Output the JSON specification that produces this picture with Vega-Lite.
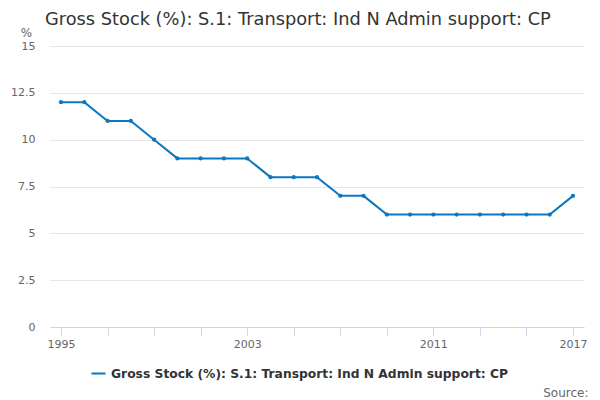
{
  "$schema": "https://vega.github.io/schema/vega-lite/v6.json",
  "width": 534,
  "height": 281,
  "autosize": {"type": "none"},
  "padding": {"left": 50, "top": 46, "right": 16, "bottom": 73},
  "background": "#ffffff",
  "title": {
    "text": "Gross Stock (%): S.1: Transport: Ind N Admin support: CP",
    "anchor": "start",
    "frame": "group",
    "font": "DejaVu Sans",
    "fontSize": 17.8,
    "fontWeight": "normal",
    "color": "#333333",
    "dx": -5,
    "offset": -3
  },
  "data": {
    "values": [
      {"year": 1995, "value": 12, "series": "Gross Stock (%): S.1: Transport: Ind N Admin support: CP"},
      {"year": 1996, "value": 12, "series": "Gross Stock (%): S.1: Transport: Ind N Admin support: CP"},
      {"year": 1997, "value": 11, "series": "Gross Stock (%): S.1: Transport: Ind N Admin support: CP"},
      {"year": 1998, "value": 11, "series": "Gross Stock (%): S.1: Transport: Ind N Admin support: CP"},
      {"year": 1999, "value": 10, "series": "Gross Stock (%): S.1: Transport: Ind N Admin support: CP"},
      {"year": 2000, "value": 9, "series": "Gross Stock (%): S.1: Transport: Ind N Admin support: CP"},
      {"year": 2001, "value": 9, "series": "Gross Stock (%): S.1: Transport: Ind N Admin support: CP"},
      {"year": 2002, "value": 9, "series": "Gross Stock (%): S.1: Transport: Ind N Admin support: CP"},
      {"year": 2003, "value": 9, "series": "Gross Stock (%): S.1: Transport: Ind N Admin support: CP"},
      {"year": 2004, "value": 8, "series": "Gross Stock (%): S.1: Transport: Ind N Admin support: CP"},
      {"year": 2005, "value": 8, "series": "Gross Stock (%): S.1: Transport: Ind N Admin support: CP"},
      {"year": 2006, "value": 8, "series": "Gross Stock (%): S.1: Transport: Ind N Admin support: CP"},
      {"year": 2007, "value": 7, "series": "Gross Stock (%): S.1: Transport: Ind N Admin support: CP"},
      {"year": 2008, "value": 7, "series": "Gross Stock (%): S.1: Transport: Ind N Admin support: CP"},
      {"year": 2009, "value": 6, "series": "Gross Stock (%): S.1: Transport: Ind N Admin support: CP"},
      {"year": 2010, "value": 6, "series": "Gross Stock (%): S.1: Transport: Ind N Admin support: CP"},
      {"year": 2011, "value": 6, "series": "Gross Stock (%): S.1: Transport: Ind N Admin support: CP"},
      {"year": 2012, "value": 6, "series": "Gross Stock (%): S.1: Transport: Ind N Admin support: CP"},
      {"year": 2013, "value": 6, "series": "Gross Stock (%): S.1: Transport: Ind N Admin support: CP"},
      {"year": 2014, "value": 6, "series": "Gross Stock (%): S.1: Transport: Ind N Admin support: CP"},
      {"year": 2015, "value": 6, "series": "Gross Stock (%): S.1: Transport: Ind N Admin support: CP"},
      {"year": 2016, "value": 6, "series": "Gross Stock (%): S.1: Transport: Ind N Admin support: CP"},
      {"year": 2017, "value": 7, "series": "Gross Stock (%): S.1: Transport: Ind N Admin support: CP"}
    ]
  },
  "mark": {"type": "line", "strokeWidth": 2, "point": {"size": 18, "filled": true}},
  "encoding": {
    "x": {
      "field": "year",
      "type": "quantitative",
      "scale": {"domain": [1995, 2017], "nice": false, "zero": false, "padding": 11},
      "axis": {
        "values": [1995, 1997, 1999, 2001, 2003, 2005, 2007, 2009, 2011, 2013, 2015, 2017],
        "labelExpr": "(datum.value == 1995 || datum.value == 2003 || datum.value == 2011 || datum.value == 2017) ? datum.label : ''",
        "format": "d",
        "grid": false,
        "domainColor": "#ccd6eb",
        "tickColor": "#ccd6eb",
        "tickSize": 8,
        "labelFont": "DejaVu Sans",
        "labelFontSize": 11,
        "labelColor": "#666666",
        "labelPadding": 3,
        "labelFlush": false,
        "title": "Source:",
        "titleFont": "DejaVu Sans",
        "titleFontSize": 12,
        "titleFontWeight": "normal",
        "titleColor": "#666666",
        "titleAnchor": null,
        "titleAlign": "right",
        "titleBaseline": "middle",
        "titleX": 538,
        "titleY": 65
      }
    },
    "y": {
      "field": "value",
      "type": "quantitative",
      "scale": {"domain": [0, 15], "nice": false},
      "axis": {
        "values": [0, 2.5, 5, 7.5, 10, 12.5, 15],
        "format": ".1~f",
        "domain": false,
        "ticks": false,
        "gridColor": "#e6e6e6",
        "labelFont": "DejaVu Sans",
        "labelFontSize": 11,
        "labelColor": "#666666",
        "labelPadding": 15,
        "title": "%",
        "titleFont": "DejaVu Sans",
        "titleFontSize": 12,
        "titleFontWeight": "normal",
        "titleColor": "#666666",
        "titleAngle": 0,
        "titleAlign": "center",
        "titleBaseline": "middle",
        "titleX": -24,
        "titleY": -14
      }
    },
    "color": {
      "field": "series",
      "type": "nominal",
      "scale": {"range": ["#0b77c1"]},
      "legend": {
        "title": null,
        "orient": "none",
        "legendX": 40,
        "legendY": 319,
        "symbolType": "stroke",
        "symbolStrokeWidth": 2,
        "symbolSize": 200,
        "labelFont": "DejaVu Sans",
        "labelFontSize": 12.3,
        "labelFontWeight": "bold",
        "labelColor": "#333333",
        "labelLimit": 600
      }
    }
  },
  "config": {"view": {"stroke": null}}
}
